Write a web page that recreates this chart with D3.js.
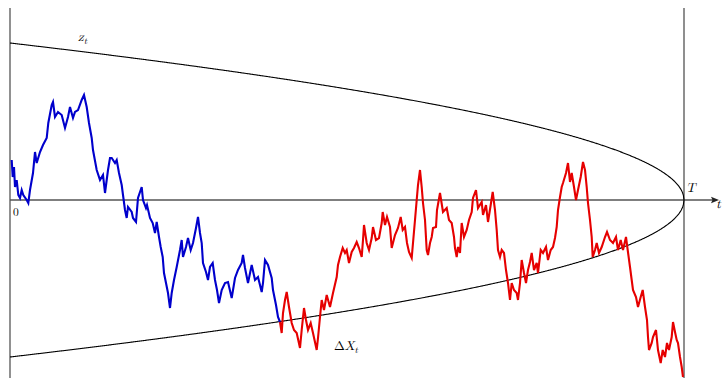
<!DOCTYPE html>
<html><head><meta charset="utf-8">
<script src="https://cdn.jsdelivr.net/npm/d3@7"></script>
<style>body{margin:0;background:#fff}svg{display:block}</style>
</head><body>
<svg id="c" width="723" height="378"></svg>
<script>
// time horizon and boundary height (data units)
const T = 674;
const z0 = 157;
// labels
const labels = {boundary: "z", incr: "ΔX", horizon: "T", axis: "t", origin: "0"};
// blue part + red part of the simulated path, [t, X_t]
const pathPoints = [
[1.7,40],[2.7,23],[4,33],[5,13],[6.7,20],[8.3,5],[10,2],[11.7,10],[13.3,5],[16.7,0],[18.3,-3],[20,10],[23,27],[25,48],[26.7,37],[30,48],[33,55],[36.7,62],[38.3,77],[41.7,95],[43,98],[45,83],[48,88],[51.7,85],[55,72],[58,83],[60,93],[63,82],[65,88],[68,90],[71.7,100],[74,105],[76.7,93],[79,77],[81.7,62],[83,50],[86.7,30],[90,20],[93,25],[95,7],[98,30],[100,42],[101.7,42],[105,37],[106.7,40],[109,27],[111.7,15],[113,5],[115,-10],[116.7,-18],[118,-7],[121.7,-12],[123,-18],[126,-22],[128,2],[131.7,13],[133,0],[136,-8],[137,-5],[140,-18],[142.7,-23],[145,-33],[146.7,-22],[149,-37],[150.7,-47],[152.7,-57],[154,-73],[156,-83],[158,-93],[160,-108],[161.7,-93],[164,-80],[166.7,-67],[170,-50],[171.7,-40],[173,-57],[176,-47],[178,-38],[180.7,-50],[183,-43],[186,-28],[188,-17],[190,-33],[191.7,-43],[193,-63],[196,-72],[198,-80],[200,-67],[202.7,-63],[205,-80],[207,-90],[209,-103],[211.7,-90],[215,-83],[218,-82],[221.7,-98],[225,-78],[228,-70],[231.7,-63],[233,-55],[235,-68],[238,-83],[241.7,-65],[245,-80],[248,-77],[251.7,-92],[253,-83],[255,-60],[258,-65],[261.7,-78],[263,-90],[266,-105],[268,-117],[270,-122],
[271.7,-133],[273,-113],[275,-100],[276.7,-92],[279,-107],[281.7,-123],[284,-130],[286.7,-133],[290,-148],[291.7,-130],[294,-108],[296,-120],[298,-130],[300.7,-123],[303,-133],[306.7,-150],[308,-138],[310,-117],[311.7,-100],[314,-110],[316.7,-95],[320,-107],[323,-93],[326.7,-77],[328,-65],[330,-57],[332.7,-48],[335,-53],[336.7,-50],[339,-63],[341.7,-52],[344,-48],[346.7,-42],[349,-48],[351.7,-57],[353,-40],[354,-25],[356.7,-43],[359,-50],[361.7,-38],[363,-27],[366,-40],[369,-38],[371.7,-23],[372.7,-12],[375,-25],[377,-17],[380,-27],[381.7,-48],[385,-35],[388,-28],[390.7,-17],[392.7,-30],[395,-27],[397,-43],[399,-52],[401.7,-58],[403,-43],[405,-20],[406.7,0],[408,15],[410,30],[411.7,13],[413,-3],[415,-20],[416.7,-50],[418,-55],[420,-43],[421.7,-37],[423,-28],[426,-27],[427,-10],[430,7],[433,-12],[436.7,-8],[439,-20],[441.7,-23],[444,-37],[445,-48],[446.7,-57],[448,-47],[450,-53],[451.7,-23],[454,-37],[456.7,-30],[459,-20],[461.7,-12],[463,2],[466,10],[468,-8],[471.7,-2],[473,-15],[476,-5],[478,-22],[480.7,-5],[482.7,8],[485,-10],[486.7,-30],[488,-50],[490,-57],[491.7,-50],[494,-53],[496,-70],[498,-83],[500,-100],[501.7,-83],[504,-90],[506.7,-93],[508,-100],[510,-83],[511.7,-60],[514,-73],[516,-83],[518,-70],[520,-62],[521.7,-53],[524,-70],[526.7,-63],[528,-73],[530.7,-50],[533,-53],[536,-47],[538,-60],[540.7,-50],[543,-47],[545,-38],[546.7,-27],[548,-10],[550,3],[551.7,13],[553,17],[556,27],[558,37],[560,18],[561.7,27],[564,13],[566,0],[568,10],[570.7,23],[573,38],[575,30],[576.7,13],[578,-3],[580,-20],[581.7,-37],[582.7,-57],[585,-50],[586.7,-43],[589,-53],[591.7,-47],[595,-37],[597,-32],[600,-40],[603,-43],[606,-37],[608,-50],[610.7,-40],[613,-50],[616,-37],[617.7,-50],[620,-67],[621.7,-80],[623,-90],[626,-97],[628,-107],[630.7,-97],[632.7,-90],[635,-107],[637,-120],[638,-137],[639,-150],[641.7,-143],[643,-137],[646,-130],[648,-150],[650.7,-163],[652.7,-150],[655,-157],[657,-143],[659,-150],[661.7,-137],[663,-122],[665,-132],[666.7,-140],[668,-143],[670,-157],[671.7,-167],[673,-177]
];

const svg = d3.select("#c");
const x = d3.scaleLinear().domain([0, T]).range([10, 684]);
const y = d3.scaleLinear().domain([-z0, z0]).range([357, 43]);
const y0 = y(0);

const boundary = t => z0 * Math.sqrt(Math.max(0, 1 - t / T));

// axes
svg.append("line").attr("x1", 10).attr("x2", 10).attr("y1", 8).attr("y2", 378)
  .attr("stroke", "#555").attr("stroke-width", 1.3);
svg.append("line").attr("x1", x(T)).attr("x2", x(T)).attr("y1", 8).attr("y2", 378)
  .attr("stroke", "#333").attr("stroke-width", 1.1);
svg.append("line").attr("x1", 10).attr("x2", 713).attr("y1", y0).attr("y2", y0)
  .attr("stroke", "#555").attr("stroke-width", 1.3);
svg.append("path").attr("d", `M719,${y0} L711,${y0-3.2} L712.5,${y0} L711,${y0+3.2} Z`)
  .attr("fill", "#222");

// boundary curves
const bs = d3.range(0, 1001).map(i => i / 1000 * T);
const bLine = d3.line().x(t => x(t));
svg.append("path").attr("d", bLine.y(t => y(boundary(t)))(bs))
  .attr("fill", "none").attr("stroke", "#000").attr("stroke-width", 1.1);
svg.append("path").attr("d", bLine.y(t => y(-boundary(t)))(bs))
  .attr("fill", "none").attr("stroke", "#000").attr("stroke-width", 1.1);

// path: blue until first hit of the lower boundary, then red
let hit = pathPoints.findIndex(p => p[1] <= -boundary(p[0]));
if (hit < 0) hit = pathPoints.length - 1;
const line = d3.line().x(d => x(d[0])).y(d => y(d[1]));
svg.append("path").attr("d", line(pathPoints.slice(0, hit + 1)))
  .attr("fill", "none").attr("stroke", "#0000cc").attr("stroke-width", 2.1)
  .attr("stroke-linejoin", "miter");
svg.append("path").attr("d", line(pathPoints.slice(hit)))
  .attr("fill", "none").attr("stroke", "#e60000").attr("stroke-width", 2.1)
  .attr("stroke-linejoin", "miter");

// labels
const font = "'Latin Modern Math','DejaVu Serif','Liberation Serif',serif";
function mathLabel(px, py, main, sub, size) {
  const t = svg.append("text").attr("x", px).attr("y", py)
    .attr("font-family", font).attr("font-size", size).attr("fill", "#000");
  t.append("tspan").attr("font-style", main === "ΔX" ? "normal" : "italic").text(main === "ΔX" ? "Δ" : main);
  if (main === "ΔX") t.append("tspan").attr("font-style", "italic").text("X");
  if (sub) t.append("tspan").attr("font-style", "italic").attr("font-size", size * 0.72)
    .attr("dy", 3).text(sub);
}
mathLabel(78, 41, labels.boundary, "t", 13);
mathLabel(334, 350, labels.incr, "t", 13);
mathLabel(686, 192, labels.horizon, null, 13);
mathLabel(716, 208, labels.axis, null, 13);
svg.append("text").attr("x", 13).attr("y", 216).attr("font-family", font)
  .attr("font-size", 11.5).text(labels.origin);
</script>
</body></html>
